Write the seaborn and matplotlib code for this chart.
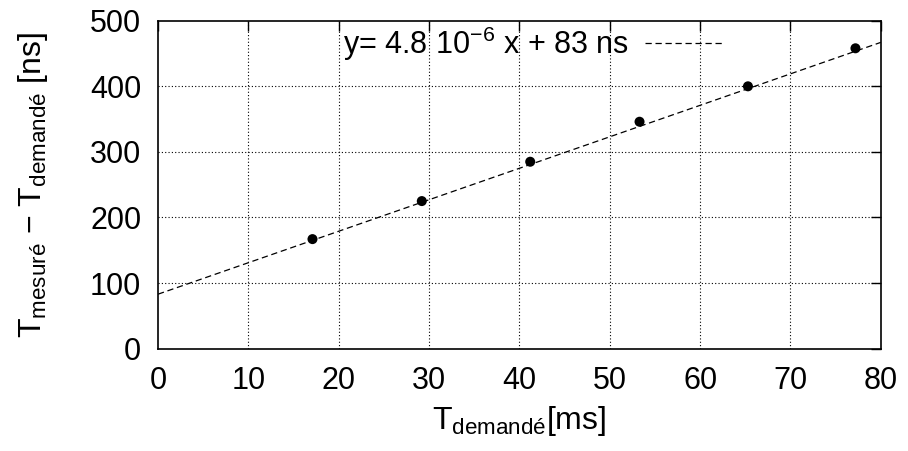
import numpy as np
import pandas as pd
import matplotlib
matplotlib.use("Agg")
import matplotlib.pyplot as plt
import seaborn as sns

# mesures : T demandé [ms] et écart mesuré - demandé [ns]
t_demande_ms = [17.1, 29.2, 41.2, 53.3, 65.3, 77.2]
ecart_ns = [167, 225, 285, 346, 400, 458]

# ajustement linéaire affiché dans la légende
SLOPE = 4.8e-6      # ns / ns
INTERCEPT = 83      # ns
FIT_LABEL = r"y= 4.8 10$^{-6}$ x + 83 ns"

x_ticks = [0, 10, 20, 30, 40, 50, 60, 70, 80]
y_ticks = [0, 100, 200, 300, 400, 500]

sns.set_theme(style="white")
plt.rcParams["font.family"] = ["Liberation Sans", "DejaVu Sans"]
plt.rcParams["mathtext.default"] = "regular"
plt.rcParams["text.color"] = "black"

df = pd.DataFrame({"x": t_demande_ms, "y": ecart_ns})
x_fit = np.array([x_ticks[0], x_ticks[-1]], dtype=float)
fit = pd.DataFrame({"x": x_fit, "y": SLOPE * 1e6 * x_fit + INTERCEPT})

FS = 22

fig = plt.figure(figsize=(9.08, 4.51), dpi=100)
ax = fig.add_axes([0.174, 0.227, 0.796, 0.727])

sns.lineplot(data=fit, x="x", y="y", ax=ax, color="black", lw=0.9,
             dashes=False, label=FIT_LABEL)
ax.lines[-1].set_dashes((5, 3))
sns.scatterplot(data=df, x="x", y="y", ax=ax, color="black", s=52,
                edgecolor="none", zorder=3)

ax.set_xlim(x_ticks[0], x_ticks[-1])
ax.set_ylim(y_ticks[0], y_ticks[-1])
ax.set_xticks(x_ticks)
ax.set_yticks(y_ticks)

# grille pointillée façon gnuplot
for xv in x_ticks[1:-1]:
    ax.axvline(xv, color="black", lw=0.8, ls=(0, (1, 2)), zorder=1)
for yv in y_ticks[1:-1]:
    ax.axhline(yv, color="black", lw=0.8, ls=(0, (1, 2)), zorder=1)

ax.tick_params(direction="in", length=7, width=1, top=True, right=True,
               labelsize=FS, colors="black")
ax.tick_params(axis="x", pad=12.5)
ax.tick_params(axis="y", pad=12)
for sp in ax.spines.values():
    sp.set_color("black")
    sp.set_linewidth(1.2)

ax.set_xlabel(r"T$_{demandé}$[ms]", fontsize=FS + 1, color="black", labelpad=6)
ax.set_ylabel(r"T$_{mesuré}$ $-$ T$_{demandé}$ [ns]", fontsize=FS + 1,
              color="black", labelpad=29)

leg = ax.legend(loc="upper right", bbox_to_anchor=(0.80, 1.025), frameon=False,
                markerfirst=False, fontsize=FS, handlelength=2.6,
                handletextpad=0.5, borderaxespad=0.0)

fig.savefig("out.png", dpi=100)
